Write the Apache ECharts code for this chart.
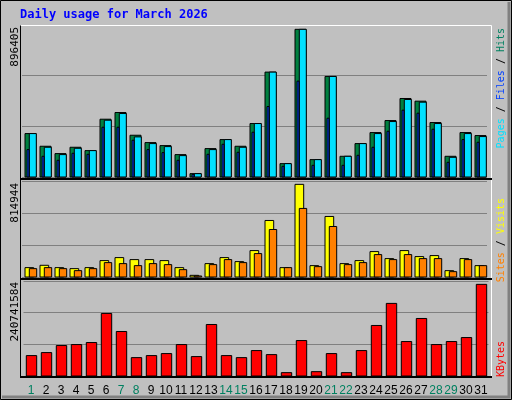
<!DOCTYPE html>
<html><head><meta charset="utf-8">
<script src="https://cdn.jsdelivr.net/npm/echarts@6/dist/echarts.min.js"></script>
<style>html,body{margin:0;padding:0;background:#c0c0c0}#c{width:512px;height:400px}</style>
</head><body><div id="c"></div>
<script>
const days = ['1','2','3','4','5','6','7','8','9','10','11','12','13','14','15','16','17','18','19','20','21','22','23','24','25','26','27','28','29','30','31'];
const weekendDays = ['1','7','8','14','15','21','22','28','29'];
const hits = [263600,186600,142000,180500,160200,350800,391400,253500,208900,190600,135900,20300,172400,227100,186600,324500,636800,81100,896405,105500,610400,125700,202800,269700,342700,476600,460400,330600,125700,269700,251500];
const files = [263600,180500,136000,174400,160200,344700,385300,243400,202800,184500,129800,20300,166300,227100,180500,324500,636800,81100,896405,105500,610400,125700,202800,263600,336600,470500,454300,324500,119600,263600,245400];
const pages = [166300,125700,101400,144000,137900,302200,302200,223100,166300,148000,101400,16200,137900,198700,150100,271800,427900,64900,582000,71000,356900,71000,131800,180500,277800,405600,387300,290000,89200,227100,210900];
const visits = [82400,103000,82400,73600,82400,144200,170600,153000,153000,144200,82400,14700,117700,170600,135300,232400,497200,82400,814944,100000,532500,117700,144200,223600,161800,232400,179500,188300,55900,161800,100000];
const sites = [73600,82400,73600,55900,73600,126500,117700,100000,117700,108900,64700,8800,108900,153000,126500,205900,417800,82400,603100,91200,444200,108900,126500,197100,153000,197100,161800,161800,47100,153000,100000];
const kbytes = [53600000,61500000,80000000,82600000,87900000,164300000,116900000,48300000,53600000,58900000,82600000,51000000,135300000,53600000,48300000,66800000,56200000,8800000,93100000,11400000,58900000,8800000,66800000,132700000,190700000,90500000,151100000,82600000,90500000,101000000,240741584];
const maxTop = 922700, maxMid = 844400, maxBot = 249528000;

function barSeries(data, idx, color, dx, w, z) {
  return {
    type: 'custom', xAxisIndex: idx, yAxisIndex: idx, z: z,
    data: data.map((v, i) => [i, v]),
    renderItem: function (params, api) {
      const base = api.coord([api.value(0), 0]);
      const top = api.coord([api.value(0), api.value(1)]);
      return { type: 'rect', shape: { x: base[0] + dx, y: top[1], width: w, height: base[1] - top[1] },
        style: { fill: color, stroke: '#000', lineWidth: 1 } };
    }
  };
}
const grids = [{left:22,width:465,top:25,height:152},{left:22,width:465,top:181,height:96},{left:23.5,width:465,top:281,height:95}];
const maxes = [maxTop, maxMid, maxBot];
const chart = echarts.init(document.getElementById('c'));
chart.setOption({
  animation: false,
  backgroundColor: '#c0c0c0',
  grid: grids,
  xAxis: grids.map((g, i) => ({
    type: 'category', gridIndex: i, data: days, boundaryGap: true,
    axisLine: {show: false}, axisTick: {show: false},
    axisLabel: i === 2 ? { show: true, interval: 0, margin: 9, fontFamily: 'Liberation Sans', fontSize: 12,
      color: (v) => weekendDays.includes(v) ? '#008060' : '#000' } : {show: false}
  })),
  yAxis: maxes.map((m, i) => ({
    type: 'value', gridIndex: i, min: 0, max: m, interval: m / 3,
    axisLabel: {show: false}, axisLine: {show: false}, axisTick: {show: false},
    splitLine: {show: true, lineStyle: {color: '#808080', width: 1}}
  })),
  series: [
    barSeries(hits, 0, '#008040', -4.5, 11, 2),
    barSeries(files, 0, '#00e0ff', -0.2, 7, 3),
    barSeries(pages, 0, '#0040ff', -2.5, 2, 4),
    barSeries(visits, 1, '#ffff00', -4.5, 8.7, 2),
    barSeries(sites, 1, '#ff8000', -0.2, 7.4, 3),
    barSeries(kbytes, 2, '#ff0000', -4.7, 10.4, 2)
  ],
  graphic: [
    {type:'rect', shape:{x:0.5,y:0.5,width:511,height:399}, style:{fill:null, stroke:'#000', lineWidth:1}, z:-1},
    {type:'polyline', shape:{points:[[509,2],[509,397],[2,397]]}, style:{stroke:'#808080', lineWidth:3, fill:null}, z:-1},
    {type:'polyline', shape:{points:[[20.5,25.5],[491.5,25.5],[491.5,376.5]]}, style:{stroke:'#fff', fill:null, lineWidth:1}, z:10},
    {type:'polyline', shape:{points:[[20.5,25.5],[20.5,377]]}, style:{stroke:'#000', fill:null, lineWidth:1}, z:10},
    {type:'rect', shape:{x:20,y:178,width:472,height:2}, style:{fill:'#000'}, z:10},
    {type:'rect', shape:{x:20,y:278,width:472,height:2}, style:{fill:'#000'}, z:10},
    {type:'rect', shape:{x:20,y:376,width:472,height:2}, style:{fill:'#000'}, z:10},
    {type:'text', x:20, y:15, style:{text:'Daily usage for March 2026', fill:'#0000ff', font:'bold 12px "DejaVu Sans Mono"', verticalAlign:'middle'}},
    {type:'text', x:15, y:27, rotation:Math.PI/2, style:{text:'896405', fill:'#000', font:'11px "DejaVu Sans Mono"', align:'right', verticalAlign:'middle'}},
    {type:'text', x:15, y:183, rotation:Math.PI/2, style:{text:'814944', fill:'#000', font:'11px "DejaVu Sans Mono"', align:'right', verticalAlign:'middle'}},
    {type:'text', x:15, y:282, rotation:Math.PI/2, style:{text:'240741584', fill:'#000', font:'11px "DejaVu Sans Mono"', align:'right', verticalAlign:'middle'}},
    {type:'text', x:501, y:28, rotation:Math.PI/2, style:{rich:{p:{fill:'#00e0ff'},f:{fill:'#0040ff'},h:{fill:'#008060'},s:{fill:'#000'}},
      text:'{p|Pages}{s| / }{f|Files}{s| / }{h|Hits}', font:'10px "DejaVu Sans Mono"', align:'right', verticalAlign:'middle'}},
    {type:'text', x:501, y:198, rotation:Math.PI/2, style:{rich:{v:{fill:'#ffff00'},t:{fill:'#ff8000'},s:{fill:'#000'}},
      text:'{t|Sites}{s| / }{v|Visits}', font:'10px "DejaVu Sans Mono"', align:'right', verticalAlign:'middle'}},
    {type:'text', x:501, y:377, rotation:Math.PI/2, style:{text:'KBytes', fill:'#ff0000', font:'10px "DejaVu Sans Mono"', align:'left', verticalAlign:'middle'}}
  ]
});
</script></body></html>
